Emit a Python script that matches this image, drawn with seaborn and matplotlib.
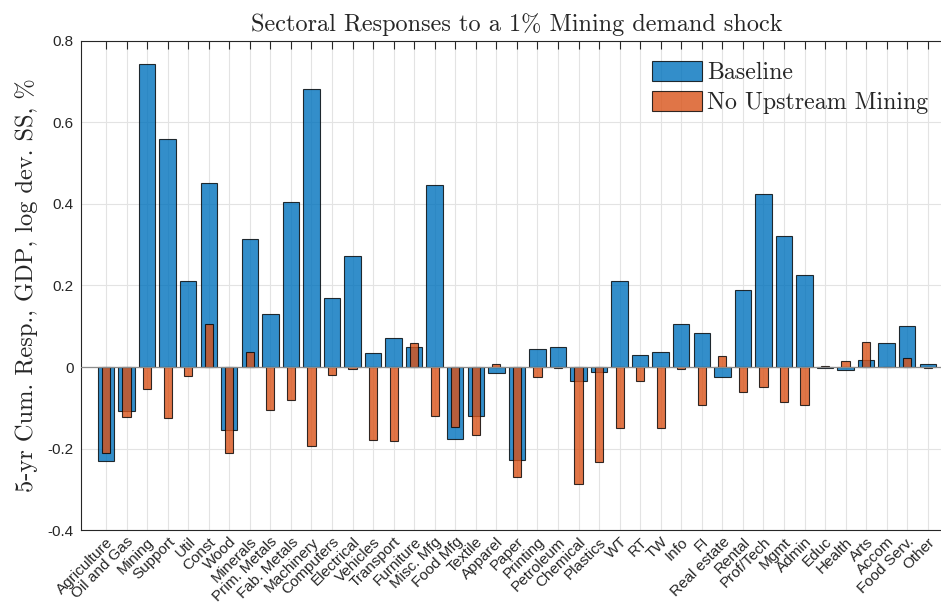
import matplotlib
matplotlib.use('Agg')
import matplotlib.pyplot as plt
import matplotlib.patches as mpatches
import seaborn as sns

# Sector names on the x axis
sectors = ['Agriculture', 'Oil and Gas', 'Mining', 'Support', 'Util', 'Const',
           'Wood', 'Minerals', 'Prim. Metals', 'Fab. Metals', 'Machinery',
           'Computers', 'Electrical', 'Vehicles', 'Transport', 'Furniture',
           'Misc. Mfg', 'Food Mfg', 'Textile', 'Apparel', 'Paper', 'Printing',
           'Petroleum', 'Chemical', 'Plastics', 'WT', 'RT', 'TW', 'Info', 'FI',
           'Real estate', 'Rental', 'Prof/Tech', 'Mgmt', 'Admin', 'Educ',
           'Health', 'Arts', 'Accom', 'Food Serv.', 'Other']

# 5-yr cumulative responses (%)
baseline = [-0.230, -0.107, 0.743, 0.559, 0.211, 0.451, -0.155, 0.315, 0.129,
            0.404, 0.683, 0.169, 0.273, 0.035, 0.071, 0.048, 0.446, -0.176,
            -0.120, -0.014, -0.227, 0.044, 0.049, -0.035, -0.013, 0.212, 0.029,
            0.037, 0.106, 0.084, -0.025, 0.189, 0.424, 0.322, 0.225, -0.002,
            -0.007, 0.018, 0.058, 0.100, 0.008]
no_upstream = [-0.210, -0.123, -0.055, -0.124, -0.021, 0.106, -0.212, 0.036,
               -0.105, -0.080, -0.194, -0.019, -0.004, -0.178, -0.182, 0.060,
               -0.120, -0.148, -0.168, 0.007, -0.270, -0.024, -0.002, -0.286,
               -0.232, -0.149, -0.035, -0.149, -0.005, -0.093, 0.026, -0.061,
               -0.049, -0.085, -0.093, 0.003, 0.014, 0.062, 0.001, 0.022, -0.002]

yticks = [-0.4, -0.2, 0, 0.2, 0.4, 0.6, 0.8]
ytick_labels = ['-0.4', '-0.2', '0', '0.2', '0.4', '0.6', '0.8']

blue = (0.0, 0.447, 0.741)
orange = (0.85, 0.325, 0.098)
serif = 'cmr10'

sns.set_style('white')
plt.rcParams['font.family'] = ['Liberation Sans', 'DejaVu Sans']
plt.rcParams['axes.unicode_minus'] = False

fig = plt.figure(figsize=(9.41, 6.09), dpi=100)
ax = fig.add_axes([0.0858, 0.1297, 0.927, 0.803])

# grid below bars
ax.set_axisbelow(True)

sns.barplot(x=sectors, y=baseline, color=blue, saturation=1, width=0.8,
            alpha=0.8, edgecolor='black', linewidth=0.8, ax=ax, zorder=2)
sns.barplot(x=sectors, y=no_upstream, color=orange, saturation=1, width=0.4,
            alpha=0.8, edgecolor='black', linewidth=0.8, ax=ax, zorder=3)
ax.axhline(0, color='#8c8c8c', linewidth=0.9, zorder=4)

ax.set_xlim(-1.23, len(sectors) - 1 + 1.23)
ax.set_ylim(-0.4, 0.8)
ax.set_yticks(yticks)
ax.set_yticklabels(ytick_labels, fontsize=11)
ax.set_xticks(range(len(sectors)))
ax.set_xticklabels(sectors, rotation=45, ha='right', va='top',
                   rotation_mode='anchor', fontsize=11)
ax.tick_params(direction='in', length=6, width=0.8, color='#262626',
               top=True, right=True, labelcolor='#262626')
ax.tick_params(axis='y', pad=5)
ax.grid(True, color='#e3e3e3', linewidth=0.8)
for s in ax.spines.values():
    s.set_color('#262626')
    s.set_linewidth(0.8)

ax.set_title('Sectoral Responses to a 1% Mining demand shock',
             fontfamily=serif, fontsize=17.5, pad=7)
ax.set_ylabel('5-yr Cum. Resp., GDP, log dev. SS, %', fontfamily=serif,
              fontsize=17.6, labelpad=7)

handles = [
    mpatches.Patch(facecolor=blue, alpha=0.8, edgecolor='black',
                   linewidth=0.8, label='Baseline'),
    mpatches.Patch(facecolor=orange, alpha=0.8, edgecolor='black',
                   linewidth=0.8, label='No Upstream Mining')
]
ax.legend(handles=handles, loc='upper left',
          bbox_to_anchor=(652 / 941, 1 - 61 / 609),
          bbox_transform=fig.transFigure, frameon=False,
          prop={'family': serif, 'size': 17.2}, handlelength=2.1,
          handleheight=0.89, labelspacing=0.3, handletextpad=0.22,
          borderpad=0, borderaxespad=0)

fig.savefig('out.png', dpi=100)
